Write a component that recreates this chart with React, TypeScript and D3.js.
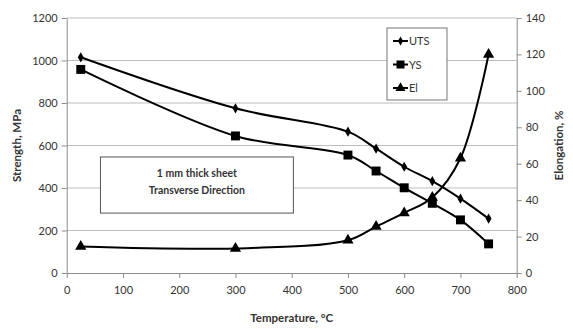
import { useEffect, useRef } from "react";
import * as d3 from "d3";

const temps = [25, 300, 500, 550, 600, 650, 700, 750];
const uts = [1015, 775, 665, 585, 500, 432, 350, 256];
const ys = [958, 645, 555, 480, 401, 328, 250, 137];
const el = [14.5, 13.5, 18, 25.5, 33, 41.5, 63, 120];

const xTicks = [0, 100, 200, 300, 400, 500, 600, 700, 800];
const leftTicks = [0, 200, 400, 600, 800, 1000, 1200];
const rightTicks = [0, 20, 40, 60, 80, 100, 120, 140];

const font = "Lato, 'Open Sans', sans-serif";
const textColor = "#333";

export default function App() {
  const svgRef = useRef<SVGSVGElement>(null);

  useEffect(() => {
    if (!svgRef.current) return;
    const svg = d3.select(svgRef.current);
    svg.selectAll("*").remove();

    const margin = { top: 18, left: 66.7 };
    const chartW = 516.7 - margin.left;
    const chartH = 273 - margin.top;

    const x = d3.scaleLinear().domain([0, 800]).range([0, chartW]);
    const yL = d3.scaleLinear().domain([0, 1200]).range([chartH, 0]);
    const yR = d3.scaleLinear().domain([0, 140]).range([chartH, 0]);

    const g = svg
      .append("g")
      .attr("transform", `translate(${margin.left},${margin.top})`);

    // gridlines
    g.append("g")
      .selectAll("line")
      .data(leftTicks.slice(1))
      .join("line")
      .attr("x1", 0)
      .attr("x2", chartW)
      .attr("y1", (d) => yL(d))
      .attr("y2", (d) => yL(d))
      .attr("stroke", "#bdbdbd")
      .attr("stroke-width", 1);

    const styleAxis = (sel: d3.Selection<SVGGElement, unknown, null, undefined>) => {
      sel.select(".domain").attr("stroke", "#8c8c8c");
      sel.selectAll(".tick line").attr("stroke", "#8c8c8c");
      sel
        .selectAll(".tick text")
        .attr("fill", textColor)
        .attr("font-size", "11px")
        .attr("font-family", font);
    };
    const fmt = d3.format("d");

    g.append("g")
      .attr("transform", `translate(0,${chartH})`)
      .call(d3.axisBottom(x).tickValues(xTicks).tickFormat(fmt).tickSize(5).tickSizeOuter(0).tickPadding(8))
      .call(styleAxis);

    g.append("g")
      .call(d3.axisLeft(yL).tickValues(leftTicks).tickFormat(fmt).tickSize(5).tickSizeOuter(0).tickPadding(4))
      .call(styleAxis);

    g.append("g")
      .attr("transform", `translate(${chartW},0)`)
      .call(d3.axisRight(yR).tickValues(rightTicks).tickFormat(fmt).tickSize(5).tickSizeOuter(0).tickPadding(4))
      .call(styleAxis);

    // annotation box
    const box = g.append("g");
    const bx0 = x(60);
    const bx1 = x(403);
    const by0 = yL(546);
    const by1 = yL(282);
    box
      .append("rect")
      .attr("x", bx0)
      .attr("y", by0)
      .attr("width", bx1 - bx0)
      .attr("height", by1 - by0)
      .attr("fill", "white")
      .attr("stroke", "#555")
      .attr("stroke-width", 1);
    const cx = (bx0 + bx1) / 2;
    box
      .append("text")
      .attr("x", cx)
      .attr("y", yL(450))
      .attr("text-anchor", "middle")
      .attr("font-size", "10.5px")
      .attr("font-weight", "bold")
      .attr("font-family", font)
      .attr("fill", textColor)
      .text("1 mm thick sheet");
    box
      .append("text")
      .attr("x", cx)
      .attr("y", yL(370))
      .attr("text-anchor", "middle")
      .attr("font-size", "10.5px")
      .attr("font-weight", "bold")
      .attr("font-family", font)
      .attr("fill", textColor)
      .text("Transverse Direction");

    const idx = d3.range(temps.length);
    const lineL = d3
      .line<number>()
      .x((i) => x(temps[i]))
      .curve(d3.curveCatmullRom.alpha(0.5));

    const series = [
      { name: "UTS", vals: uts, scale: yL, shape: d3.symbolDiamond, size: 30 },
      { name: "YS", vals: ys, scale: yL, shape: d3.symbolSquare, size: 80 },
      { name: "El", vals: el, scale: yR, shape: d3.symbolTriangle, size: 55 },
    ];

    series.forEach((s) => {
      g.append("path")
        .attr("d", lineL.y((i) => s.scale(s.vals[i]))(idx))
        .attr("fill", "none")
        .attr("stroke", "#000")
        .attr("stroke-width", 2);
      g.append("g")
        .selectAll("path")
        .data(idx)
        .join("path")
        .attr("transform", (i) => `translate(${x(temps[i])},${s.scale(s.vals[i])})`)
        .attr("d", d3.symbol().type(s.shape).size(s.size)())
        .attr("fill", "#000");
    });

    // legend
    const lg = svg.append("g").attr("transform", "translate(387,28)");
    lg.append("rect")
      .attr("width", 60)
      .attr("height", 72)
      .attr("fill", "white")
      .attr("stroke", "#777")
      .attr("stroke-width", 1);
    series.forEach((s, i) => {
      const yy = 13 + i * 23.5;
      lg.append("line")
        .attr("x1", 6)
        .attr("x2", 21)
        .attr("y1", yy)
        .attr("y2", yy)
        .attr("stroke", "#000")
        .attr("stroke-width", 2);
      lg.append("path")
        .attr("transform", `translate(13.5,${yy})`)
        .attr("d", d3.symbol().type(s.shape).size(s.size * 0.8)())
        .attr("fill", "#000");
      lg.append("text")
        .attr("x", 22)
        .attr("y", yy + 4)
        .attr("font-size", "11px")
        .attr("font-family", font)
        .attr("fill", textColor)
        .text(s.name);
    });

    // axis titles
    const title = (t: string, tx: number, ty: number, rot: boolean) =>
      svg
        .append("text")
        .attr("transform", `translate(${tx},${ty})${rot ? " rotate(-90)" : ""}`)
        .attr("text-anchor", "middle")
        .attr("font-size", "11.5px")
        .attr("font-weight", "bold")
        .attr("font-family", font)
        .attr("fill", textColor)
        .text(t);
    title("Strength, MPa", 21, margin.top + chartH / 2, true);
    title("Elongation, %", 563, margin.top + chartH / 2, true);
    title("Temperature, °C", margin.left + chartW / 2, 322, false);
  }, []);

  return (
    <svg
      ref={svgRef}
      width={573}
      height={329}
      style={{ position: "absolute", left: 0, top: 0, background: "white" }}
    />
  );
}
